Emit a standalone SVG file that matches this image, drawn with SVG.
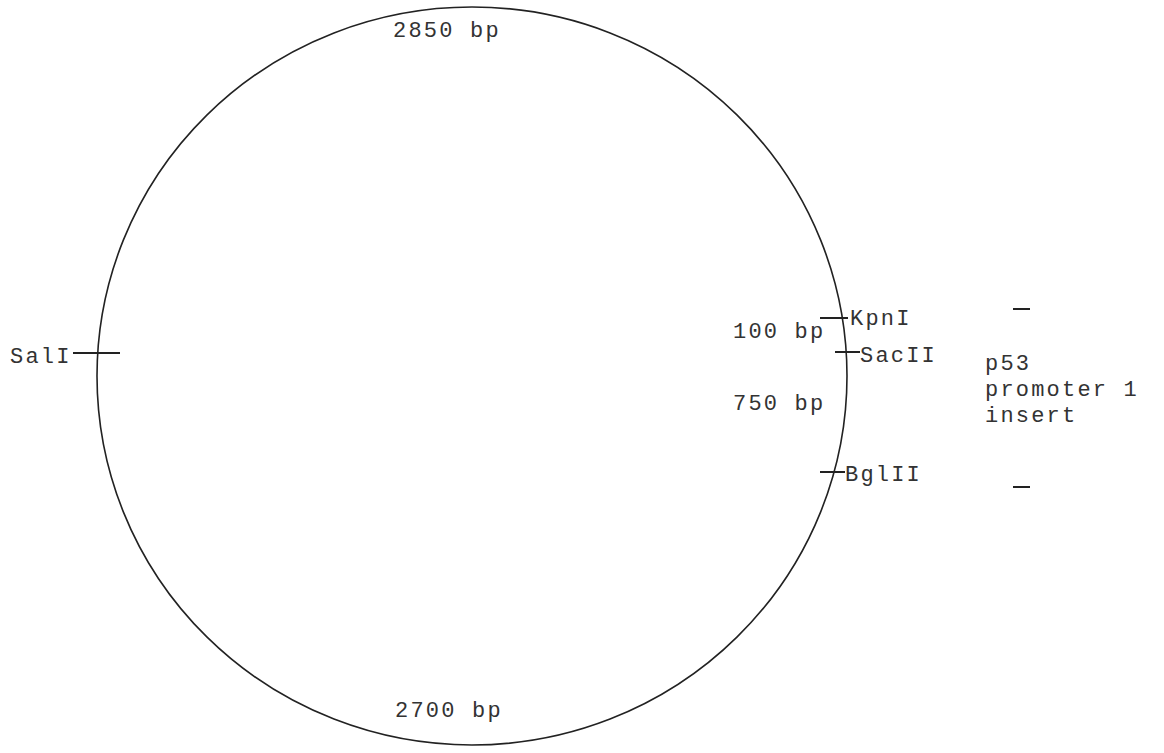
<svg xmlns="http://www.w3.org/2000/svg" width="1164" height="753" viewBox="0 0 1164 753">
<style>
.t{font-family:"Liberation Mono","DejaVu Sans Mono",monospace;font-size:22px;letter-spacing:2.2px;fill:#333}
.k{stroke:#222;stroke-width:2;fill:none}
</style>
<rect width="1164" height="753" fill="#fff"/>
<g id="plasmid">
<ellipse cx="472" cy="376" rx="375" ry="369" fill="none" stroke="#222" stroke-width="1.6"/>
</g>
<g id="connectors">
<line class="k" x1="73" y1="353" x2="120" y2="353"/>
<line class="k" x1="820" y1="318" x2="848" y2="318"/>
<line class="k" x1="835" y1="352" x2="860" y2="352"/>
<line class="k" x1="820" y1="472" x2="845" y2="472"/>
<line class="k" x1="1013" y1="309" x2="1030" y2="309"/>
<line class="k" x1="1013" y1="487" x2="1030" y2="487"/>
</g>
<g id="label-2850"><text class="t" x="393" y="37">2850 bp</text></g>
<g id="label-2700"><text class="t" x="395" y="717">2700 bp</text></g>
<g id="label-SalI"><text class="t" x="10" y="363">SalI</text></g>
<g id="label-100"><text class="t" x="733" y="338">100 bp</text></g>
<g id="label-KpnI"><text class="t" x="850" y="325">KpnI</text></g>
<g id="label-SacII"><text class="t" x="860" y="362">SacII</text></g>
<g id="label-750"><text class="t" x="733" y="410">750 bp</text></g>
<g id="label-BglII"><text class="t" x="845" y="481">BglII</text></g>
<g id="label-insert">
<text class="t" x="985" y="370">p53</text>
<text class="t" x="985" y="396">promoter 1</text>
<text class="t" x="985" y="422">insert</text>
</g>
</svg>
